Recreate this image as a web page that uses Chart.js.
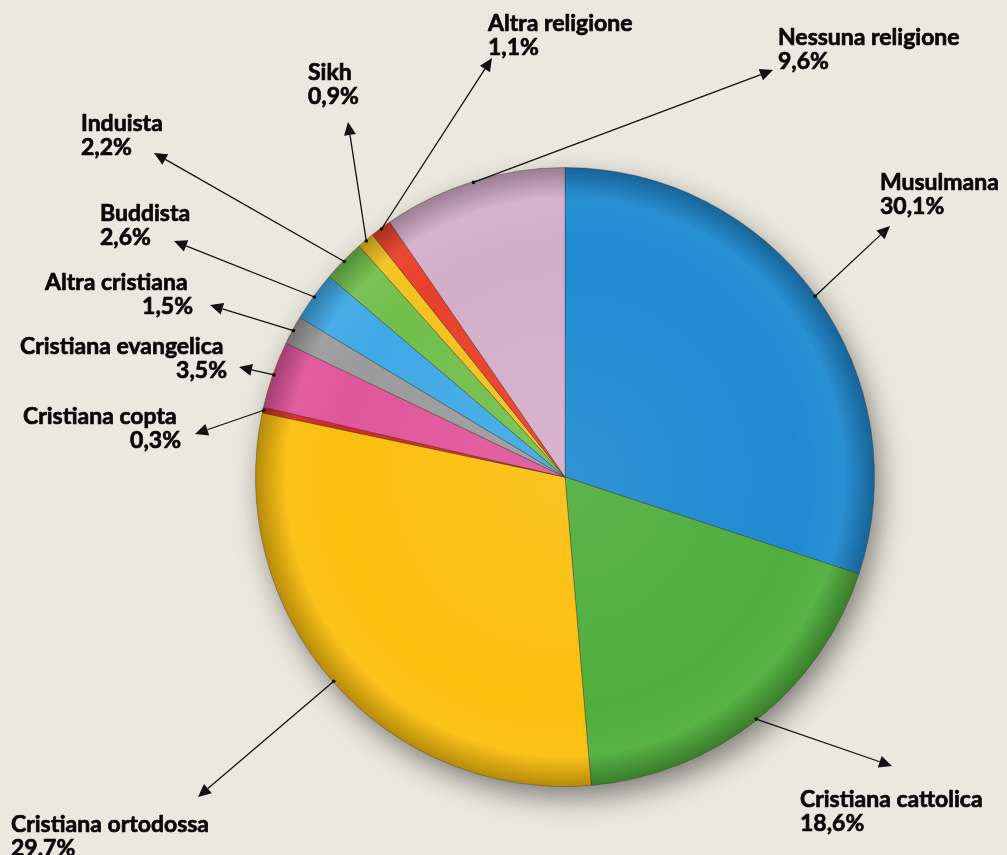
<!DOCTYPE html>
<html>
<head>
<meta charset="utf-8">
<script src="https://cdn.jsdelivr.net/npm/chart.js@4.4.0/dist/chart.umd.min.js"></script>
<style>
  html, body { margin: 0; padding: 0; background: #ebe9df; }
  #wrap { width: 1007px; height: 855px; overflow: hidden; }
</style>
</head>
<body>
<div id="wrap"><canvas id="chart" width="1007" height="855"></canvas></div>
<script>
// dati: religioni (%), in senso orario partendo dall'alto
const categories = [
  "Musulmana", "Cristiana cattolica", "Cristiana ortodossa", "Cristiana copta",
  "Cristiana evangelica", "Altra cristiana", "Buddista", "Induista",
  "Sikh", "Altra religione", "Nessuna religione"
];
const percentages = [30.1, 18.6, 29.7, 0.3, 3.5, 1.5, 2.6, 2.2, 0.9, 1.1, 9.6];
const valueLabels = percentages.map(v => v.toFixed(1).replace(".", ",") + "%");

// stile
const sliceColors = [
  "#1f8ad2", "#4fae3c", "#fbbf0e", "#d42a1e", "#e1569b", "#9b9b9b",
  "#40a9e6", "#72bf4c", "#f3c21f", "#e8402a", "#d4aec9"
];
// posizione etichette: [x, baseline, allineamento, punta freccia x, y]
const labelLayout = [
  [880, 190, "left", 890, 226],
  [800, 807, "left", 892, 766],
  [11, 832, "left", 198, 797],
  [23, 424, "split", 195, 434, 181],
  [20, 354, "split", 239, 367, 227],
  [45, 290, "split", 210, 305, 193],
  [100, 221, "left", 174, 241],
  [81, 131, "left", 154, 153],
  [308, 80, "left", 348, 122],
  [488, 31, "left", 492, 58],
  [778, 45, "left", 773, 70]
];

function shade(hex, amt) {
  let r = parseInt(hex.slice(1, 3), 16), g = parseInt(hex.slice(3, 5), 16), b = parseInt(hex.slice(5, 7), 16);
  const f = c => Math.round(amt < 0 ? c * (1 + amt) : c + (255 - c) * amt);
  return `rgb(${f(r)}, ${f(g)}, ${f(b)})`;
}

function sliceFill(c) {
  const base = sliceColors[c.dataIndex];
  const area = c.chart.chartArea;
  if (!area) return base;
  const cx = (area.left + area.right) / 2, cy = (area.top + area.bottom) / 2;
  const r = Math.min(area.right - area.left, area.bottom - area.top) / 2;
  const g = c.chart.ctx.createRadialGradient(cx, cy, 0, cx, cy, r);
  g.addColorStop(0, shade(base, 0.08));
  g.addColorStop(0.75, base);
  g.addColorStop(0.9, shade(base, 0.05));
  g.addColorStop(1, shade(base, -0.28));
  return g;
}

// ombra sotto la torta
const shadowPlugin = {
  id: "shadow",
  beforeDatasetsDraw(chart) {
    const arc = chart.getDatasetMeta(0).data[0];
    if (!arc) return;
    const ctx = chart.ctx;
    ctx.save();
    ctx.shadowColor = "rgba(0,0,0,0.5)";
    ctx.shadowBlur = 30;
    ctx.shadowOffsetX = 6;
    ctx.shadowOffsetY = 12;
    ctx.fillStyle = "#777";
    ctx.beginPath();
    ctx.arc(arc.x, arc.y, arc.outerRadius - 2, 0, Math.PI * 2);
    ctx.fill();
    ctx.restore();
  }
};

// frecce ed etichette
const labelPlugin = {
  id: "arrowLabels",
  afterDatasetsDraw(chart) {
    const ctx = chart.ctx;
    const meta = chart.getDatasetMeta(0);
    ctx.save();
    meta.data.forEach((arc, i) => {
      const p = arc.getProps(["x", "y", "startAngle", "endAngle", "outerRadius"], true);
      const mid = (p.startAngle + p.endAngle) / 2;
      const tx = p.x + Math.cos(mid) * (p.outerRadius - 1);
      const ty = p.y + Math.sin(mid) * (p.outerRadius - 1);
      const [lx, ly, align, hx, hy, rx] = labelLayout[i];
      const ang = Math.atan2(hy - ty, hx - tx);
      const len = 13, half = 6;
      const bx = hx - Math.cos(ang) * len, by = hy - Math.sin(ang) * len;
      ctx.strokeStyle = "#111";
      ctx.fillStyle = "#111";
      ctx.lineWidth = 1.3;
      ctx.beginPath();
      ctx.moveTo(tx, ty);
      ctx.lineTo(bx, by);
      ctx.stroke();
      ctx.beginPath();
      ctx.arc(tx, ty, 1.8, 0, Math.PI * 2);
      ctx.fill();
      ctx.beginPath();
      ctx.moveTo(hx, hy);
      ctx.lineTo(bx + Math.sin(ang) * half, by - Math.cos(ang) * half);
      ctx.lineTo(bx - Math.sin(ang) * half, by + Math.cos(ang) * half);
      ctx.closePath();
      ctx.fill();

      ctx.font = "bold 23px Lato";
      ctx.textBaseline = "alphabetic";
      ctx.fillStyle = "#080808";
      ctx.strokeStyle = "#080808";
      ctx.lineWidth = 0.7;
      ctx.lineJoin = "round";
      ctx.textAlign = "left";
      ctx.fillText(categories[i], lx, ly);
      ctx.strokeText(categories[i], lx, ly);
      let vx = lx;
      if (align === "split") {
        ctx.textAlign = "right";
        vx = rx;
      }
      ctx.fillText(valueLabels[i], vx, ly + 24);
      ctx.strokeText(valueLabels[i], vx, ly + 24);
    });
    ctx.restore();
  }
};

new Chart(document.getElementById("chart").getContext("2d"), {
  type: "pie",
  data: {
    labels: categories,
    datasets: [{
      data: percentages,
      backgroundColor: sliceFill,
      borderColor: "rgba(60,40,30,0.35)",
      borderWidth: 1
    }]
  },
  options: {
    responsive: false,
    animation: false,
    layout: { padding: { top: 167, bottom: 68, left: 255, right: 132 } },
    plugins: {
      legend: { display: false },
      tooltip: { enabled: false }
    }
  },
  plugins: [shadowPlugin, labelPlugin]
});
</script>
</body>
</html>
